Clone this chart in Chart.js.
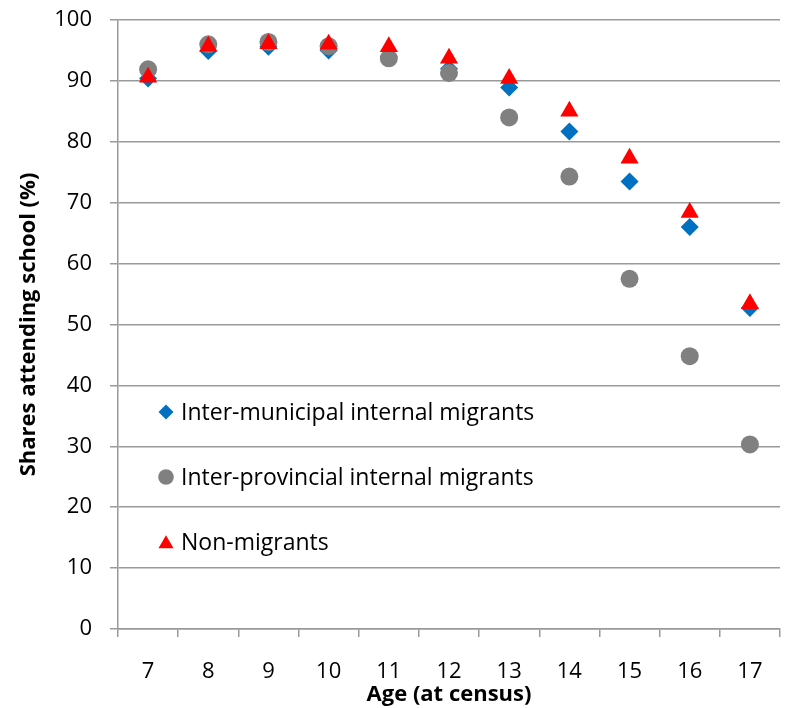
<!DOCTYPE html>
<html>
<head>
<meta charset="utf-8">
<script src="https://cdn.jsdelivr.net/npm/chart.js@4.4.0/dist/chart.umd.min.js"></script>
<style>
  html, body { margin: 0; padding: 0; background: #fff; }
  #wrap { width: 785px; height: 708px; }
</style>
</head>
<body>
<div id="wrap"><canvas id="schoolChart" width="785" height="708"></canvas></div>
<script>
// ages at census (x categories)
const ages = ['7', '8', '9', '10', '11', '12', '13', '14', '15', '16', '17'];

// shares attending school (%)
const interMunicipal = [90.4, 94.9, 95.6, 95.0, 94.0, 92.0, 88.9, 81.7, 73.5, 66.0, 52.7];
const interProvincial = [91.9, 96.0, 96.4, 95.7, 93.7, 91.3, 84.0, 74.3, 57.5, 44.8, 30.3];
const nonMigrants = [90.6, 95.7, 96.1, 96.0, 95.6, 93.7, 90.4, 85.0, 77.3, 68.4, 53.4];

const seriesNames = ['Inter-municipal internal migrants', 'Inter-provincial internal migrants', 'Non-migrants'];

const FONT = '"Open Sans", Lato, sans-serif';
const GRID = '#9a9a9a';

// legend drawn inside the plot area, like the original
const insideLegend = {
    id: 'insideLegend',
    afterDatasetsDraw(chart) {
        const { ctx, chartArea } = chart;
        ctx.save();
        ctx.font = '23px ' + FONT;
        ctx.textBaseline = 'middle';
        chart.data.datasets.forEach((ds, i) => {
            const x = chartArea.left + 48;
            const y = chartArea.top + 392 + i * 65;
            ctx.fillStyle = ds.backgroundColor;
            ctx.strokeStyle = ds.borderColor;
            Chart.helpers.drawPoint(ctx, {
                pointStyle: ds.pointStyle,
                radius: ds.legendRadius,
                borderWidth: 0,
                rotation: 0
            }, x, y + (ds.pointStyle === 'triangle' ? 2 : 0));
            ctx.fillStyle = '#000';
            ctx.fillText(ds.label, x + 15, y + 1);
        });
        ctx.restore();
    }
};

new Chart(document.getElementById('schoolChart'), {
    type: 'line',
    plugins: [insideLegend],
    data: {
        labels: ages,
        datasets: [
            {
                label: seriesNames[0],
                data: interMunicipal,
                pointStyle: 'rectRot',
                pointRadius: 9,
                legendRadius: 7.5,
                backgroundColor: '#0070C0',
                borderColor: '#0070C0',
                pointBorderWidth: 0,
                showLine: false,
                order: 3
            },
            {
                label: seriesNames[1],
                data: interProvincial,
                pointStyle: 'circle',
                pointRadius: 9,
                legendRadius: 7.8,
                backgroundColor: '#808080',
                borderColor: '#808080',
                pointBorderWidth: 0,
                showLine: false,
                order: 2
            },
            {
                label: seriesNames[2],
                data: nonMigrants,
                pointStyle: 'triangle',
                pointRadius: 10.5,
                legendRadius: 8.7,
                backgroundColor: '#FF0000',
                borderColor: '#FF0000',
                pointBorderWidth: 0,
                showLine: false,
                order: 1
            }
        ]
    },
    options: {
        responsive: false,
        animation: false,
        layout: {
            autoPadding: false,
            padding: { top: 0, right: 5, left: 0, bottom: 0 }
        },
        plugins: {
            legend: { display: false },
            tooltip: { enabled: false }
        },
        scales: {
            x: {
                type: 'category',
                offset: true,
                grid: {
                    offset: true,
                    drawOnChartArea: false,
                    drawTicks: true,
                    tickLength: 8,
                    color: GRID,
                    lineWidth: 1.5
                },
                border: { color: GRID, width: 1.5 },
                ticks: {
                    color: '#000',
                    font: { family: FONT, size: 22 },
                    padding: 22,
                    maxRotation: 0
                },
                title: {
                    display: true,
                    text: 'Age (at census)',
                    color: '#000',
                    font: { family: FONT, size: 22, weight: 'bold' },
                    padding: { top: 0, bottom: 0 }
                },
                afterFit(scale) { scale.height = 708 - 629; }
            },
            y: {
                min: 0,
                max: 100,
                grid: {
                    color: GRID,
                    lineWidth: 1.5,
                    tickLength: 8
                },
                border: { color: GRID, width: 1.5 },
                ticks: {
                    stepSize: 10,
                    color: '#000',
                    font: { family: FONT, size: 22 },
                    padding: 18
                },
                title: {
                    display: true,
                    text: 'Shares attending school (%)',
                    color: '#000',
                    font: { family: FONT, size: 22, weight: 'bold' },
                    padding: { top: 16, bottom: 0 }
                },
                afterFit(scale) {
                    scale.width = 118;
                    // tick padding otherwise pushes the plot top down
                    scale.paddingTop = 20;
                    scale.paddingBottom = 13;
                }
            }
        }
    }
});
</script>
</body>
</html>
